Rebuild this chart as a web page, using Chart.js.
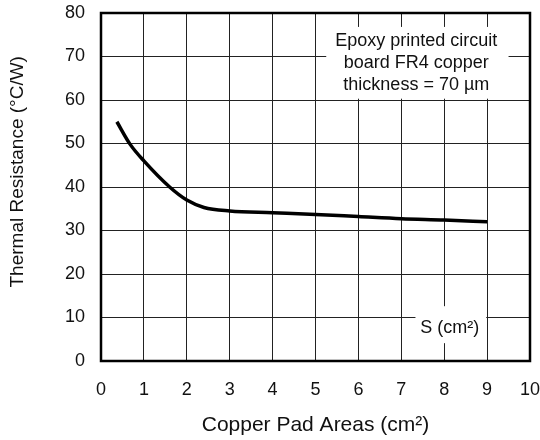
<!DOCTYPE html>
<html><head><meta charset="utf-8">
<script src="https://cdn.jsdelivr.net/npm/chart.js@4/dist/chart.umd.min.js"></script>
<style>html,body{margin:0;padding:0;background:#fff}#wrap{width:540px;height:440px}</style>
</head><body><div id="wrap"><canvas id="c" width="540" height="440"></canvas></div>
<script>
const padArea = [0.37, 0.68, 1.0, 1.6, 2.0, 2.4, 3.0, 4.0, 5.0, 6.0, 7.0, 8.0, 9.0];
const thermalRes = [55.0, 49.8, 46.0, 40.0, 37.0, 35.3, 34.5, 34.1, 33.7, 33.2, 32.7, 32.4, 32.0];
const xTicks = [0,1,2,3,4,5,6,7,8,9,10];
const yTicks = [0,10,20,30,40,50,60,70,80];
const noteLines = ["Epoxy printed circuit", "board FR4 copper", "thickness = 70 µm"];
const sLabel = "S (cm²)";
const xTitle = "Copper Pad Areas (cm²)";
const yTitle = "Thermal Resistance (°C/W)";

const FONT = "'Liberation Sans', Arial, Helvetica, sans-serif";

const overlay = {
  id: 'overlay',
  afterDatasetsDraw(chart) {
    const ctx = chart.ctx, a = chart.chartArea, xs = chart.scales.x, ys = chart.scales.y;
    ctx.save();
    // note box
    const cx = xs.getPixelForValue(7.35);
    ctx.fillStyle = '#fff';
    ctx.fillRect(xs.getPixelForValue(5.25), ys.getPixelForValue(76.8), xs.getPixelForValue(9.5)-xs.getPixelForValue(5.25), ys.getPixelForValue(60.3)-ys.getPixelForValue(76.8));
    ctx.fillStyle = '#111';
    ctx.font = '18px ' + FONT;
    ctx.textAlign = 'center'; ctx.textBaseline = 'middle';
    const y0 = ys.getPixelForValue(73.6);
    noteLines.forEach((t,i)=>ctx.fillText(t, cx, y0 + i*22));
    // S label
    ctx.fillStyle = '#fff';
    ctx.fillRect(xs.getPixelForValue(7.33), ys.getPixelForValue(12.6), xs.getPixelForValue(8.98)-xs.getPixelForValue(7.33), ys.getPixelForValue(4.1)-ys.getPixelForValue(12.6));
    ctx.fillStyle = '#111';
    ctx.fillText(sLabel, xs.getPixelForValue(8.13), ys.getPixelForValue(7.6));
    // border
    ctx.strokeStyle = '#000'; ctx.lineWidth = 2.5;
    ctx.strokeRect(a.left, a.top, a.right-a.left, a.bottom-a.top);
    // y title
    ctx.font = '19px ' + FONT;
    ctx.translate(18, ys.getPixelForValue(43.5));
    ctx.rotate(-Math.PI/2);
    ctx.fillText(yTitle, 0, 0);
    ctx.restore();
  }
};

new Chart(document.getElementById('c'), {
  type: 'line',
  data: { datasets: [{
    data: padArea.map((x,i)=>({x, y: thermalRes[i]})),
    borderColor: '#000', borderWidth: 3.5, pointRadius: 0,
    cubicInterpolationMode: 'monotone', fill: false
  }]},
  options: {
    responsive: false, animation: false,
    layout: { padding: { top: 13, right: 10, left: 0, bottom: 0 } },
    plugins: { legend: { display: false }, tooltip: { enabled: false } },
    scales: {
      x: {
        type: 'linear', min: 0, max: 10,
        afterBuildTicks: s => { s.ticks = xTicks.map(v=>({value:v})); },
        afterFit: s => { s.height = 79; s.paddingLeft = 0; s.paddingRight = 0; },
        grid: { color: '#222', lineWidth: 1, drawTicks: false },
        border: { display: false },
        ticks: { color: '#111', padding: 18, font: { size: 18, family: FONT } },
        title: { display: true, text: xTitle, color: '#111', font: { size: 21, family: FONT }, padding: { top: 2, bottom: 2 } }
      },
      y: {
        type: 'linear', min: 0, max: 80,
        afterBuildTicks: s => { s.ticks = yTicks.map(v=>({value:v})); },
        afterFit: s => { s.width = 101; s.paddingTop = 0; s.paddingBottom = 0; },
        grid: { color: '#222', lineWidth: 1, drawTicks: false },
        border: { display: false },
        ticks: { color: '#111', padding: 16, font: { size: 18, family: FONT } }
      }
    }
  },
  plugins: [overlay]
});
</script></body></html>
